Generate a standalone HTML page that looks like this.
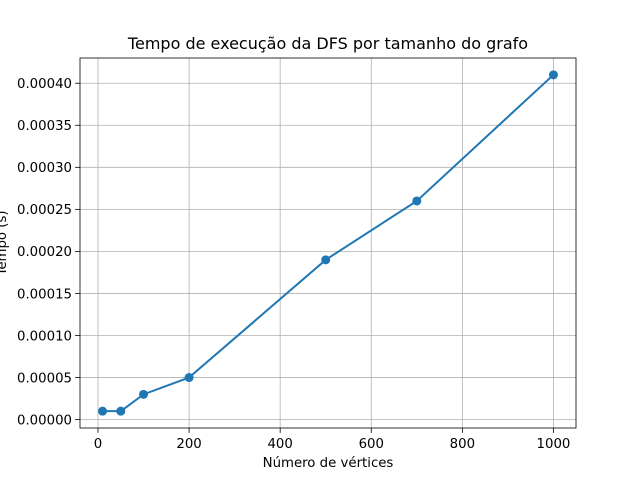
<!DOCTYPE html>
<html><head><meta charset="utf-8"><style>
body{margin:0;background:#fff;}
svg{display:block;font-family:"DejaVu Sans","Liberation Sans",sans-serif;}
</style></head><body>
<svg id="chart" width="640" height="480"></svg>
<script>
const xValues=[10,50,100,200,500,700,1000];
const yValues=[0.00001,0.00001,0.00003,0.00005,0.00019,0.00026,0.00041];
const xTicks=[0,200,400,600,800,1000];
const yTicks=[0,0.00005,0.0001,0.00015,0.0002,0.00025,0.0003,0.00035,0.0004];
const yTickLabels=["0.00000","0.00005","0.00010","0.00015","0.00020","0.00025","0.00030","0.00035","0.00040"];
const L=80,R=576,T=58,B=428;
const xmin=-39.5,xmax=1049.5,ymin=-0.00001,ymax=0.00043;
const sx=v=>L+(v-xmin)/(xmax-xmin)*(R-L);
const sy=v=>B-(v-ymin)/(ymax-ymin)*(B-T);
const svg=document.getElementById('chart');
const NS='http://www.w3.org/2000/svg';
function mk(tag,attrs,parent){const e=document.createElementNS(NS,tag);for(const k in attrs)e.setAttribute(k,attrs[k]);(parent||svg).appendChild(e);return e;}
xTicks.forEach(t=>{
  const g=mk('line',{x1:sx(t),x2:sx(t),y1:T,y2:B,stroke:'#b0b0b0','stroke-width':0.8});
  
  
  mk('line',{x1:sx(t),x2:sx(t),y1:B,y2:B+4.9,stroke:'#000','stroke-width':0.8});
  const tx=mk('text',{x:sx(t),y:B+20,'font-size':13.3,'text-anchor':'middle'});
  tx.textContent=t;
  
  
});
yTicks.forEach((t,i)=>{
  const g=mk('line',{x1:L,x2:R,y1:sy(t),y2:sy(t),stroke:'#b0b0b0','stroke-width':0.8});
  
  
  mk('line',{x1:L-4.9,x2:L,y1:sy(t),y2:sy(t),stroke:'#000','stroke-width':0.8});
  const tx=mk('text',{x:L-8,y:sy(t)+4.8,'font-size':13.3,'text-anchor':'end'});
  tx.textContent=yTickLabels[i];
  
  
});
const line=mk('polyline',{points:xValues.map((x,i)=>sx(x)+','+sy(yValues[i])).join(' '),fill:'none',stroke:'#1f77b4','stroke-width':2});


xValues.forEach((x,i)=>{
  const c=mk('circle',{cx:sx(x),cy:sy(yValues[i]),r:4.5,fill:'#1f77b4'});
  
  
});
const fr=mk('rect',{x:L,y:T,width:R-L,height:B-T,fill:'none',stroke:'#000','stroke-width':0.8});


const title=mk('text',{x:(L+R)/2,y:T-9,'font-size':16,'text-anchor':'middle'});
title.textContent='Tempo de execução da DFS por tamanho do grafo';


const xl=mk('text',{x:(L+R)/2,y:467,'font-size':13.3,'text-anchor':'middle'});
xl.textContent='Número de vértices';


const yl=mk('text',{x:0,y:0,'font-size':13.3,'text-anchor':'middle',transform:'translate(6,'+((T+B)/2)+') rotate(-90)'});
yl.textContent='Tempo (s)';


</script>
</body></html>
